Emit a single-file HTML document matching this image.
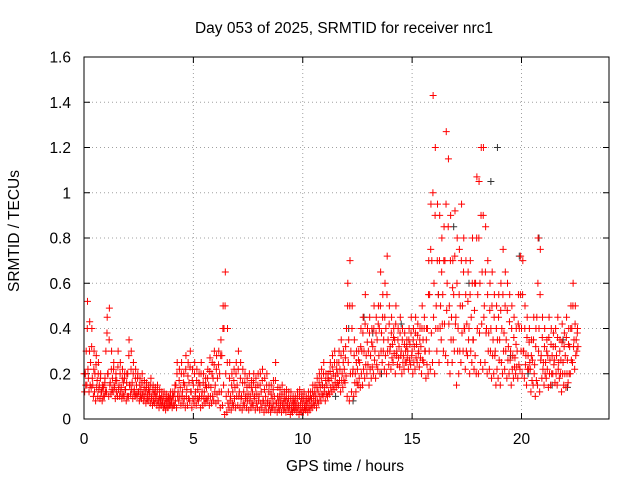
<!DOCTYPE html>
<html><head><meta charset="utf-8"><style>
body{margin:0;background:#fff;}
svg{display:block;font-family:"Liberation Sans",sans-serif;font-size:15.5px;}
</style></head><body>
<svg id="chart" width="640" height="480" viewBox="0 0 640 480" xmlns="http://www.w3.org/2000/svg">
<rect width="640" height="480" fill="#fff"/>
<text x="344" y="33" text-anchor="middle">Day 053 of 2025, SRMTID for receiver nrc1</text>
<g id="grid"></g>
<g id="ticks"></g>
<g id="marks"></g>
<rect x="84" y="57" width="525" height="362" fill="none" stroke="#000" stroke-width="1"/>
<text transform="translate(19,231) rotate(-90)" text-anchor="middle">SRMTID / TECUs</text>
<text x="345" y="471" text-anchor="middle">GPS time / hours</text>
</svg>
<script>
const xTicks=[0,5,10,15,20];
const yTicks=[0,0.2,0.4,0.6,0.8,1,1.2,1.4,1.6];
const yTickLabels=["0","0.2","0.4","0.6","0.8","1","1.2","1.4","1.6"];
const high=[0.2,0.52,0.43,0.4,0.3,0.28,0.25,0.2,0.15,0.18,
0.45,0.49,0.3,0.25,0.2,0.3,0.25,0.22,0.2,0.2,
0.35,0.3,0.25,0.22,0.2,0.18,0.2,0.17,0.16,0.15,
0.18,0.15,0.14,0.15,0.13,0.12,0.12,0.11,0.1,0.12,
0.12,0.15,0.25,0.22,0.25,0.2,0.28,0.25,0.3,0.22,
0.25,0.22,0.2,0.25,0.2,0.18,0.22,0.27,0.25,0.3,
0.28,0.3,0.35,0.5,0.65,0.4,0.25,0.2,0.22,0.25,
0.3,0.25,0.22,0.2,0.18,0.2,0.17,0.2,0.18,0.2,
0.2,0.22,0.18,0.2,0.15,0.15,0.17,0.25,0.14,0.13,
0.15,0.12,0.13,0.12,0.12,0.1,0.1,0.12,0.13,0.11,
0.12,0.1,0.12,0.12,0.15,0.15,0.18,0.2,0.22,0.25,
0.2,0.2,0.25,0.28,0.3,0.25,0.3,0.35,0.3,0.32,
0.6,0.7,0.5,0.35,0.3,0.3,0.4,0.45,0.55,0.4,
0.45,0.4,0.5,0.45,0.5,0.65,0.55,0.6,0.72,0.5,
0.45,0.4,0.5,0.4,0.45,0.4,0.38,0.35,0.4,0.45,
0.4,0.45,0.42,0.4,0.5,0.45,0.4,0.7,0.95,1.43,
1.2,0.95,0.9,0.8,0.85,1.27,1.15,0.9,0.7,0.92,
0.8,0.75,0.95,0.8,0.7,0.65,0.7,0.8,0.6,1.07,
1.05,1.2,1.2,0.85,0.7,0.6,0.65,0.55,0.5,0.55,
0.6,0.75,0.65,0.6,0.55,0.5,0.45,0.4,0.55,0.72,
0.7,0.5,0.45,0.4,0.35,0.45,0.4,0.8,0.75,0.45,
0.4,0.35,0.45,0.4,0.38,0.4,0.45,0.35,0.42,0.38,
0.45,0.4,0.5,0.6,0.5,0.4];
const upperMid=[0.2,0.4,0.3,0.32,0.22,0.24,0.2,0.18,0.14,0.16,
0.38,0.35,0.22,0.22,0.17,0.23,0.2,0.18,0.18,0.16,
0.28,0.22,0.2,0.18,0.18,0.15,0.16,0.14,0.14,0.13,
0.15,0.13,0.12,0.12,0.1,0.1,0.1,0.09,0.09,0.1,
0.1,0.12,0.2,0.17,0.2,0.16,0.22,0.19,0.23,0.17,
0.2,0.17,0.16,0.2,0.16,0.15,0.18,0.21,0.2,0.24,
0.22,0.24,0.28,0.4,0.5,0.25,0.18,0.15,0.17,0.2,
0.22,0.18,0.16,0.16,0.14,0.15,0.14,0.16,0.14,0.15,
0.15,0.17,0.13,0.15,0.12,0.11,0.13,0.17,0.1,0.1,
0.11,0.09,0.1,0.09,0.09,0.08,0.08,0.09,0.1,0.09,
0.09,0.08,0.09,0.1,0.12,0.12,0.14,0.16,0.18,0.2,
0.17,0.18,0.21,0.23,0.25,0.22,0.25,0.28,0.25,0.27,
0.5,0.5,0.4,0.28,0.25,0.26,0.32,0.38,0.42,0.34,
0.38,0.34,0.4,0.38,0.42,0.5,0.45,0.45,0.55,0.42,
0.38,0.36,0.42,0.35,0.38,0.35,0.33,0.32,0.35,0.38,
0.35,0.38,0.37,0.35,0.4,0.4,0.35,0.55,0.75,1.0,
0.9,0.7,0.7,0.65,0.7,0.95,0.85,0.7,0.58,0.72,
0.6,0.55,0.7,0.65,0.55,0.52,0.55,0.6,0.48,0.8,
0.8,0.9,0.9,0.65,0.55,0.48,0.5,0.45,0.4,0.45,
0.48,0.55,0.5,0.48,0.43,0.4,0.36,0.33,0.42,0.55,
0.55,0.4,0.36,0.34,0.28,0.35,0.32,0.6,0.55,0.36,
0.32,0.3,0.36,0.33,0.32,0.32,0.36,0.3,0.34,0.32,
0.36,0.33,0.4,0.5,0.42,0.38];
const mid=[0.2,0.3,0.18,0.25,0.15,0.2,0.17,0.15,0.12,0.14,
0.3,0.2,0.16,0.18,0.14,0.17,0.15,0.14,0.16,0.13,
0.2,0.15,0.16,0.13,0.15,0.12,0.13,0.11,0.12,0.11,
0.12,0.1,0.11,0.1,0.08,0.09,0.08,0.07,0.08,0.09,
0.08,0.1,0.15,0.12,0.14,0.12,0.15,0.13,0.16,0.12,
0.15,0.12,0.13,0.15,0.12,0.12,0.14,0.15,0.14,0.18,
0.15,0.18,0.2,0.28,0.4,0.1,0.12,0.1,0.12,0.14,
0.15,0.12,0.1,0.12,0.1,0.11,0.1,0.12,0.1,0.11,
0.1,0.12,0.08,0.1,0.08,0.07,0.09,0.1,0.07,0.08,
0.08,0.07,0.08,0.07,0.06,0.06,0.07,0.06,0.06,0.07,
0.07,0.06,0.07,0.08,0.09,0.1,0.1,0.12,0.14,0.15,
0.14,0.15,0.17,0.18,0.2,0.19,0.2,0.22,0.2,0.22,
0.4,0.35,0.3,0.22,0.2,0.22,0.25,0.3,0.3,0.28,
0.3,0.28,0.32,0.3,0.35,0.4,0.38,0.35,0.4,0.35,
0.32,0.33,0.35,0.3,0.32,0.3,0.28,0.3,0.3,0.33,
0.3,0.32,0.33,0.3,0.32,0.35,0.3,0.4,0.55,0.7,
0.6,0.5,0.55,0.5,0.55,0.7,0.6,0.5,0.45,0.55,
0.45,0.4,0.5,0.5,0.4,0.42,0.4,0.45,0.35,0.6,
0.55,0.6,0.65,0.5,0.4,0.38,0.4,0.35,0.3,0.35,
0.35,0.4,0.38,0.35,0.32,0.3,0.28,0.27,0.3,0.4,
0.4,0.3,0.28,0.28,0.22,0.26,0.24,0.45,0.4,0.28,
0.25,0.25,0.28,0.26,0.28,0.26,0.28,0.25,0.26,0.25,
0.28,0.26,0.32,0.4,0.35,0.35];
const lowerMid=[0.15,0.22,0.15,0.18,0.12,0.14,0.13,0.12,0.1,0.12,
0.2,0.15,0.13,0.15,0.12,0.13,0.12,0.11,0.13,0.1,
0.15,0.13,0.12,0.11,0.12,0.1,0.11,0.1,0.09,0.1,
0.09,0.08,0.09,0.08,0.07,0.07,0.06,0.06,0.06,0.07,
0.06,0.08,0.1,0.1,0.1,0.09,0.1,0.09,0.12,0.09,
0.1,0.09,0.1,0.1,0.09,0.09,0.1,0.1,0.1,0.12,
0.11,0.12,0.12,0.15,0.2,0.07,0.08,0.07,0.09,0.1,
0.1,0.09,0.07,0.09,0.08,0.08,0.07,0.09,0.07,0.08,
0.07,0.08,0.06,0.07,0.06,0.05,0.07,0.07,0.05,0.06,
0.06,0.05,0.06,0.05,0.04,0.05,0.05,0.05,0.04,0.05,
0.05,0.05,0.05,0.06,0.07,0.08,0.08,0.1,0.11,0.12,
0.11,0.12,0.14,0.15,0.16,0.16,0.17,0.17,0.17,0.19,
0.25,0.2,0.2,0.16,0.16,0.18,0.2,0.22,0.24,0.24,
0.22,0.23,0.26,0.24,0.28,0.3,0.3,0.28,0.3,0.3,
0.27,0.29,0.28,0.27,0.28,0.25,0.25,0.27,0.26,0.28,
0.25,0.27,0.29,0.27,0.26,0.3,0.24,0.3,0.38,0.45,
0.4,0.4,0.4,0.42,0.42,0.48,0.42,0.35,0.35,0.42,
0.3,0.3,0.38,0.4,0.3,0.35,0.3,0.35,0.28,0.4,
0.38,0.42,0.45,0.38,0.3,0.3,0.28,0.28,0.22,0.26,
0.25,0.3,0.3,0.26,0.26,0.22,0.23,0.23,0.24,0.3,
0.3,0.24,0.22,0.25,0.17,0.2,0.17,0.3,0.26,0.22,
0.2,0.22,0.2,0.2,0.24,0.2,0.22,0.2,0.2,0.2,
0.2,0.2,0.26,0.32,0.28,0.32];
const low=[0.12,0.15,0.12,0.14,0.1,0.08,0.1,0.09,0.08,0.1,
0.12,0.1,0.11,0.12,0.09,0.1,0.1,0.09,0.1,0.08,
0.1,0.11,0.09,0.1,0.1,0.08,0.09,0.08,0.07,0.08,
0.07,0.06,0.07,0.06,0.05,0.06,0.05,0.04,0.05,0.06,
0.05,0.06,0.05,0.08,0.06,0.07,0.05,0.06,0.08,0.05,
0.07,0.06,0.08,0.05,0.06,0.07,0.08,0.06,0.07,0.08,
0.07,0.08,0.05,0.06,0.02,0.03,0.05,0.04,0.06,0.05,
0.06,0.05,0.04,0.06,0.05,0.04,0.05,0.06,0.04,0.05,
0.04,0.05,0.03,0.04,0.04,0.03,0.05,0.04,0.03,0.04,
0.03,0.04,0.03,0.04,0.02,0.03,0.04,0.03,0.02,0.03,
0.03,0.04,0.03,0.04,0.05,0.06,0.05,0.07,0.08,0.1,
0.08,0.1,0.11,0.12,0.13,0.14,0.15,0.12,0.14,0.16,
0.1,0.08,0.12,0.1,0.12,0.15,0.14,0.15,0.18,0.2,
0.15,0.18,0.2,0.18,0.22,0.2,0.25,0.22,0.2,0.24,
0.22,0.25,0.2,0.24,0.23,0.2,0.22,0.25,0.22,0.24,
0.2,0.22,0.25,0.23,0.2,0.25,0.18,0.2,0.22,0.25,
0.2,0.3,0.25,0.35,0.3,0.28,0.25,0.2,0.25,0.3,
0.15,0.2,0.25,0.3,0.22,0.28,0.2,0.25,0.22,0.2,
0.2,0.25,0.22,0.25,0.2,0.22,0.18,0.2,0.15,0.18,
0.15,0.2,0.22,0.18,0.2,0.15,0.18,0.2,0.18,0.22,
0.2,0.18,0.15,0.22,0.12,0.15,0.1,0.15,0.12,0.18,
0.15,0.18,0.14,0.15,0.2,0.16,0.15,0.18,0.12,0.15,
0.14,0.16,0.2,0.25,0.22,0.3];
const blackTimes=[12.1,12.3,13.2,13.6,14.5,16.2,16.9,17.6,18.6,18.9,19.5,19.9,20.3,20.8,21.4,22.1,10.9,11.5,12.8,21.9];
const blackValues=[0.4,0.08,0.38,0.2,0.42,0.55,0.85,0.6,1.05,1.2,0.28,0.72,0.2,0.8,0.15,0.14,0.15,0.1,0.45,0.35];

const NS="http://www.w3.org/2000/svg";
const L=84,R=609,T=57,B=419,XMAX=24,YMAX=1.6;
function xs(v){return L+(R-L)*v/XMAX;}
function ys(v){return B-(B-T)*v/YMAX;}
const grid=document.getElementById('grid'),ticks=document.getElementById('ticks'),marks=document.getElementById('marks');
function mk(tag,attrs,parent){const e=document.createElementNS(NS,tag);for(const k in attrs)e.setAttribute(k,attrs[k]);parent.appendChild(e);return e;}
yTicks.forEach((v,i)=>{
  const y=ys(v);
  if(i>0&&i<yTicks.length-1){const g=mk('line',{x1:L,x2:R,y1:y,y2:y,stroke:'#a0a0a0','stroke-dasharray':'1,3'},grid);
  
  }
  const t=mk('line',{x1:L,x2:L+6,y1:y,y2:y,stroke:'#000'},ticks);
  
  
  const t2=mk('line',{x1:R-6,x2:R,y1:y,y2:y,stroke:'#000'},ticks);
  
  
  const lb=mk('text',{x:71,y:y+5.5,'text-anchor':'end'},ticks);lb.textContent=yTickLabels[i];
  
  
});
xTicks.forEach(v=>{
  const x=xs(v);
  if(v>0){const g=mk('line',{x1:x,x2:x,y1:T,y2:B,stroke:'#a0a0a0','stroke-dasharray':'1,3'},grid);
  
  }
  const t=mk('line',{x1:x,x2:x,y1:B,y2:B-6,stroke:'#000'},ticks);
  
  
  const t2=mk('line',{x1:x,x2:x,y1:T,y2:T+6,stroke:'#000'},ticks);
  
  
  const lb=mk('text',{x:x,y:B+25,'text-anchor':'middle'},ticks);lb.textContent=String(v);
  
  
});
function plus(t,v,color){
  const x=xs(t),y=ys(v);
  const p=mk('path',{d:`M${x-3.5},${y}h7M${x},${y-3.5}v7`,stroke:color,'stroke-width':1,fill:'none'},marks);
  
  
}
blackTimes.forEach((t,i)=>plus(t,blackValues[i],'#333'));
[[low,0.03],[lowerMid,0.08],[mid,0.0],[upperMid,0.05],[high,0.06]].forEach(([arr,off])=>{
  arr.forEach((v,i)=>plus(i*0.1+off,v,'#ff0000'));
});
</script>
</body></html>
